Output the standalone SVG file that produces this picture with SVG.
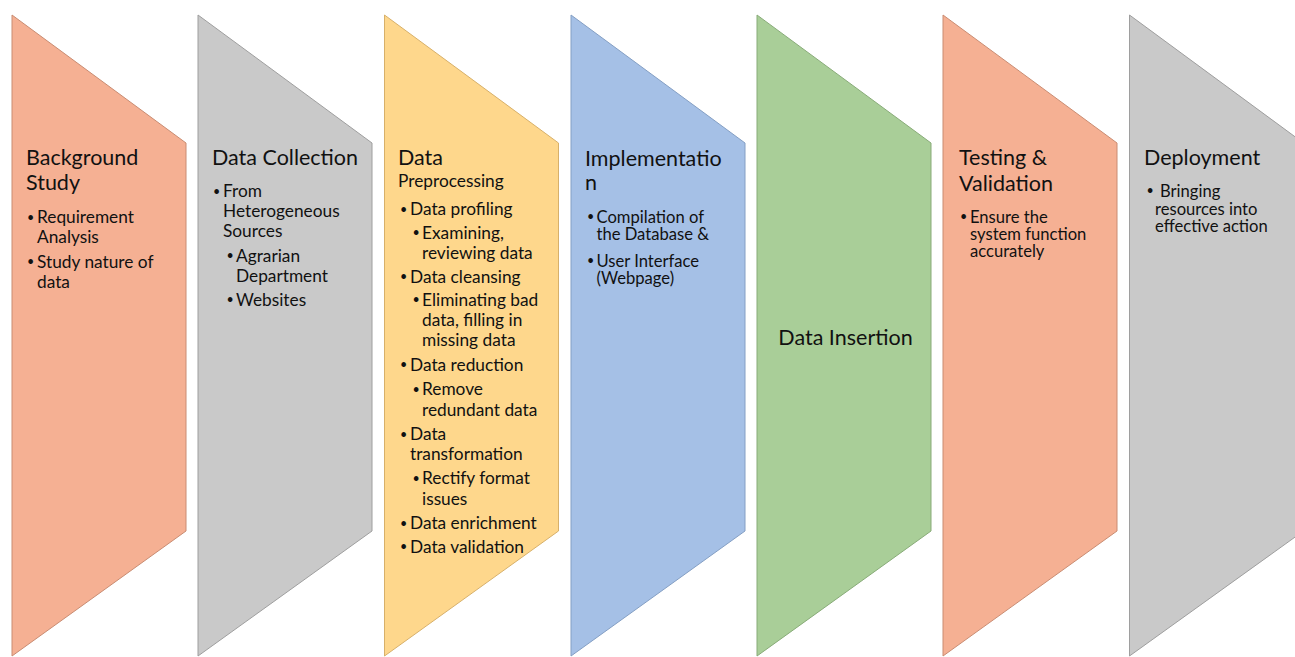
<svg xmlns="http://www.w3.org/2000/svg" xmlns:xlink="http://www.w3.org/1999/xlink" width="1295" height="657" viewBox="0 0 1295 657">
<defs>
<polygon id="chev" points="0,15 174,143 174,531 0,656"/>
</defs>
<style>
text{font-family:Lato,"Liberation Sans",sans-serif;fill:#111;}
.t{font-size:21.5px;}
.b{font-size:17.3px;}
.bt{font-size:16.6px;}
.d{font-size:12.5px;}
.orange{fill:#F5B093;stroke:#C98C72;stroke-width:1;}
.gray{fill:#C9C9C9;stroke:#9E9E9E;stroke-width:1;}
.yellow{fill:#FED78C;stroke:#D7B06A;stroke-width:1;}
.blue{fill:#A5C0E6;stroke:#849FC4;stroke-width:1;}
.green{fill:#A9CE98;stroke:#88AB78;stroke-width:1;}
</style>
<rect width="1295" height="657" fill="#FFFFFF"/>
<g id="connectors"/>

<g id="node-background">
<use xlink:href="#chev" x="12" class="orange"/>
<text class="t" x="26" y="165">Background</text>
<text class="t" x="26" y="190">Study</text>
<text class="d" x="27" y="221.5">•</text>
<text class="b" x="37" y="223">Requirement</text>
<text class="b" x="37" y="243">Analysis</text>
<text class="d" x="27" y="266">•</text>
<text class="b" x="37" y="267.5">Study nature of</text>
<text class="b" x="37" y="287.5">data</text>
</g>

<g id="node-collection">
<use xlink:href="#chev" x="198" class="gray"/>
<text class="t" x="212" y="165">Data Collection</text>
<text class="d" x="213" y="195.5">•</text>
<text class="b" x="223" y="197">From</text>
<text class="b" x="223" y="217">Heterogeneous</text>
<text class="b" x="223" y="237">Sources</text>
<text class="d" x="226.5" y="260">•</text>
<text class="b" x="236" y="261.5">Agrarian</text>
<text class="b" x="236" y="281.5">Department</text>
<text class="d" x="226.5" y="304">•</text>
<text class="b" x="236" y="305.5">Websites</text>
</g>

<g id="node-preprocessing">
<use xlink:href="#chev" x="384.5" class="yellow"/>
<text class="t" x="398" y="164.5">Data</text>
<text class="b" x="398" y="186.5">Preprocessing</text>
<text class="d" x="400" y="213.5">•</text>
<text class="b" x="410" y="215">Data profiling</text>
<text class="d" x="412.5" y="237">•</text>
<text class="b" x="422" y="238.5">Examining,</text>
<text class="b" x="422" y="258.5">reviewing data</text>
<text class="d" x="400" y="281">•</text>
<text class="b" x="410" y="282.5">Data cleansing</text>
<text class="d" x="412.5" y="304">•</text>
<text class="b" x="422" y="305.5">Eliminating bad</text>
<text class="b" x="422" y="325.5">data, filling in</text>
<text class="b" x="422" y="346">missing data</text>
<text class="d" x="400" y="369">•</text>
<text class="b" x="410" y="370.5">Data reduction</text>
<text class="d" x="412.5" y="393.5">•</text>
<text class="b" x="422" y="395">Remove</text>
<text class="b" x="422" y="415.5">redundant data</text>
<text class="d" x="400" y="438.5">•</text>
<text class="b" x="410" y="440">Data</text>
<text class="b" x="410" y="460">transformation</text>
<text class="d" x="412.5" y="482.5">•</text>
<text class="b" x="422" y="484">Rectify format</text>
<text class="b" x="422" y="504.5">issues</text>
<text class="d" x="400" y="527.5">•</text>
<text class="b" x="410" y="529">Data enrichment</text>
<text class="d" x="400" y="551">•</text>
<text class="b" x="410" y="552.5">Data validation</text>
</g>

<g id="node-implementation">
<use xlink:href="#chev" x="571" class="blue"/>
<text class="t" x="585" y="166">Implementatio</text>
<text class="t" x="585" y="190">n</text>
<text class="d" x="587" y="221">•</text>
<text class="d" x="587" y="265">•</text>
<text class="bt"><tspan x="596.5" y="222.5">Compilation of</tspan><tspan x="596.5" y="239.5">the Database &amp;</tspan><tspan x="596.5" y="266.5">User Interface</tspan><tspan x="596.5" y="283.5">(Webpage)</tspan></text>
</g>

<g id="node-insertion">
<use xlink:href="#chev" x="757" class="green"/>
<text class="t" x="845.5" y="345" text-anchor="middle">Data Insertion</text>
</g>

<g id="node-testing">
<use xlink:href="#chev" x="943" class="orange"/>
<text class="t" x="959" y="165">Testing &amp;</text>
<text class="t" x="959" y="190.5">Validation</text>
<text class="d" x="960" y="221">•</text>
<text class="bt"><tspan x="970" y="222.5">Ensure the</tspan><tspan x="970" y="239.5">system function</tspan><tspan x="970" y="256.5">accurately</tspan></text>
</g>

<g id="node-deployment">
<use xlink:href="#chev" x="1129.5" class="gray"/>
<text class="t" x="1144" y="165">Deployment</text>
<text class="d" x="1146.5" y="195">•</text>
<text class="bt"><tspan x="1160" y="196.5">Bringing</tspan><tspan x="1155" y="214.5">resources into</tspan><tspan x="1155" y="231.5">effective action</tspan></text>
</g>
</svg>
